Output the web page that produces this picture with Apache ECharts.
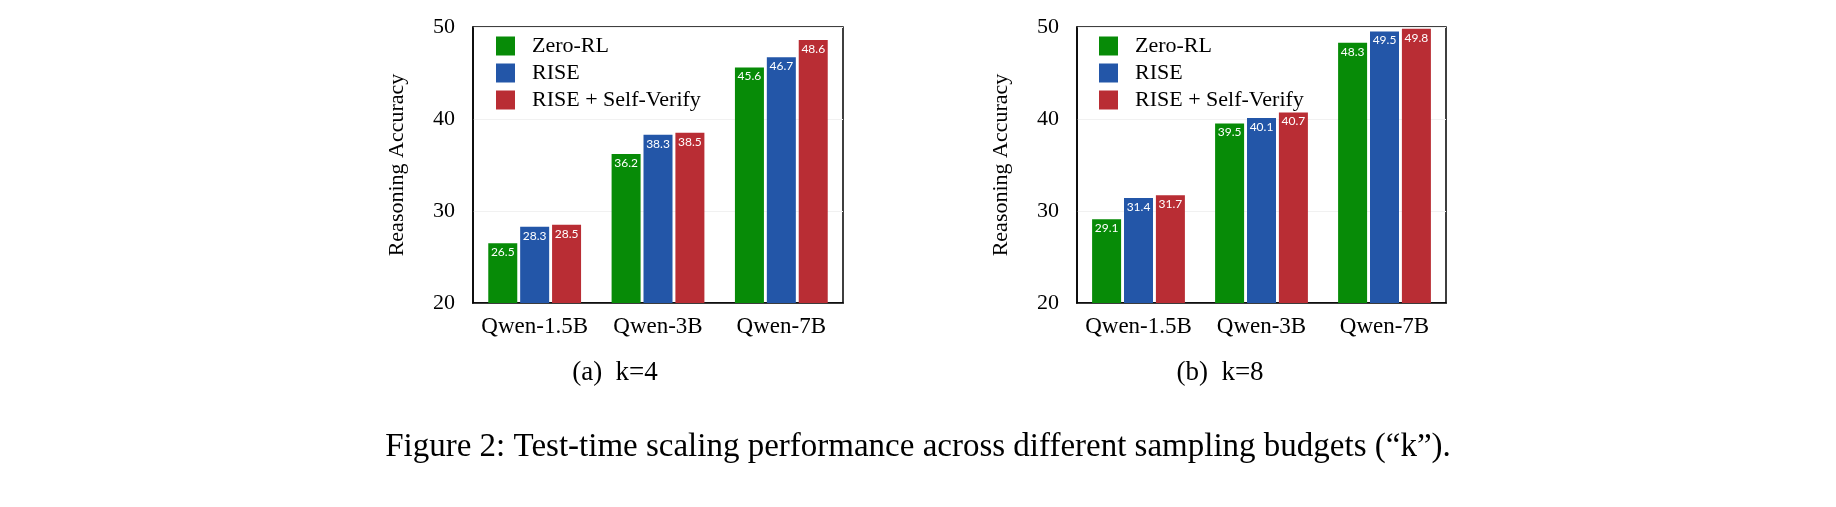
<!DOCTYPE html>
<html>
<head>
<meta charset="utf-8">
<script src="https://cdn.jsdelivr.net/npm/echarts@6/dist/echarts.min.js"></script>
<style>
html,body{margin:0;padding:0;background:#fff;}
#chart{width:1836px;height:507px;}
</style>
</head>
<body>
<div id="chart"></div>
<script>
const categories = ['Qwen-1.5B', 'Qwen-3B', 'Qwen-7B'];
const seriesNames = ['Zero-RL', 'RISE', 'RISE + Self-Verify'];
const k4ZeroRL = [26.5, 36.2, 45.6];
const k4RISE = [28.3, 38.3, 46.7];
const k4RISESV = [28.5, 38.5, 48.6];
const k8ZeroRL = [29.1, 39.5, 48.3];
const k8RISE = [31.4, 40.1, 49.5];
const k8RISESV = [31.7, 40.7, 49.8];
const yTicks = [20, 30, 40, 50];
const subTitles = ['(a)  k=4', '(b)  k=8'];
const caption = 'Figure 2: Test-time scaling performance across different sampling budgets (\u201Ck\u201D).';
const yAxisName = 'Reasoning Accuracy';

const colors = ['#078b07', '#2356a8', '#b92d34'];
const serif = '"Liberation Serif", "Times New Roman", serif';

const chart = echarts.init(document.getElementById('chart'), null, {renderer: 'canvas'});

const grids = [
  {left: 473, top: 27, width: 370, height: 276},
  {left: 1077, top: 27, width: 369, height: 276}
];

function xAxis(i) {
  return {
    type: 'category', gridIndex: i, data: categories,
    axisLine: {lineStyle: {color: '#000', width: 1.5}},
    axisTick: {show: false},
    axisLabel: {color: '#000', fontFamily: serif, fontSize: 23, margin: 12, interval: 0}
  };
}
function yAxis(i) {
  return {
    type: 'value', gridIndex: i, min: yTicks[0], max: yTicks[yTicks.length - 1], interval: 10,
    name: yAxisName, nameLocation: 'middle', nameRotate: 90, nameGap: 65,
    nameTextStyle: {color: '#000', fontFamily: serif, fontSize: 22},
    axisLine: {show: true, lineStyle: {color: '#000', width: 1.5}},
    axisTick: {show: false},
    axisLabel: {color: '#000', fontFamily: serif, fontSize: 22, margin: 18},
    splitLine: {show: true, lineStyle: {color: '#f1f1f1', width: 1}}
  };
}
function bar(name, data, i, c) {
  return {
    type: 'bar', name: name, data: data, xAxisIndex: i, yAxisIndex: i,
    barWidth: 29, barGap: '10%',
    itemStyle: {color: colors[c]},
    label: {
      show: true, position: 'insideTop', distance: 3,
      color: '#fff', fontFamily: 'Lato, "Open Sans", sans-serif', fontSize: 12,
      formatter: p => p.value.toFixed(1)
    }
  };
}
function legend(left) {
  return {
    left: left, top: 30, orient: 'vertical',
    itemWidth: 19, itemHeight: 19, itemGap: 5, icon: 'rect',
    data: seriesNames,
    textStyle: {color: '#000', fontFamily: serif, fontSize: 22, padding: [0, 0, 0, 12]}
  };
}

chart.setOption({
  animation: false,
  backgroundColor: '#fff',
  grid: grids.map(g => Object.assign({show: true, borderColor: '#000', borderWidth: 1.5, backgroundColor: 'transparent'}, g)),
  xAxis: [xAxis(0), xAxis(1)],
  yAxis: [yAxis(0), yAxis(1)],
  legend: [legend(491), legend(1094)],
  series: [
    bar(seriesNames[0], k4ZeroRL, 0, 0),
    bar(seriesNames[1], k4RISE, 0, 1),
    bar(seriesNames[2], k4RISESV, 0, 2),
    bar(seriesNames[0], k8ZeroRL, 1, 0),
    bar(seriesNames[1], k8RISE, 1, 1),
    bar(seriesNames[2], k8RISESV, 1, 2)
  ],
  graphic: [
    {type: 'text', x: 615, y: 373, style: {text: subTitles[0], fill: '#000', font: '27px ' + serif, textAlign: 'center', textVerticalAlign: 'middle'}},
    {type: 'text', x: 1220, y: 373, style: {text: subTitles[1], fill: '#000', font: '27px ' + serif, textAlign: 'center', textVerticalAlign: 'middle'}},
    {type: 'text', x: 918, y: 447, style: {text: caption, fill: '#000', font: '33px ' + serif, textAlign: 'center', textVerticalAlign: 'middle'}}
  ]
});
</script>
</body>
</html>
